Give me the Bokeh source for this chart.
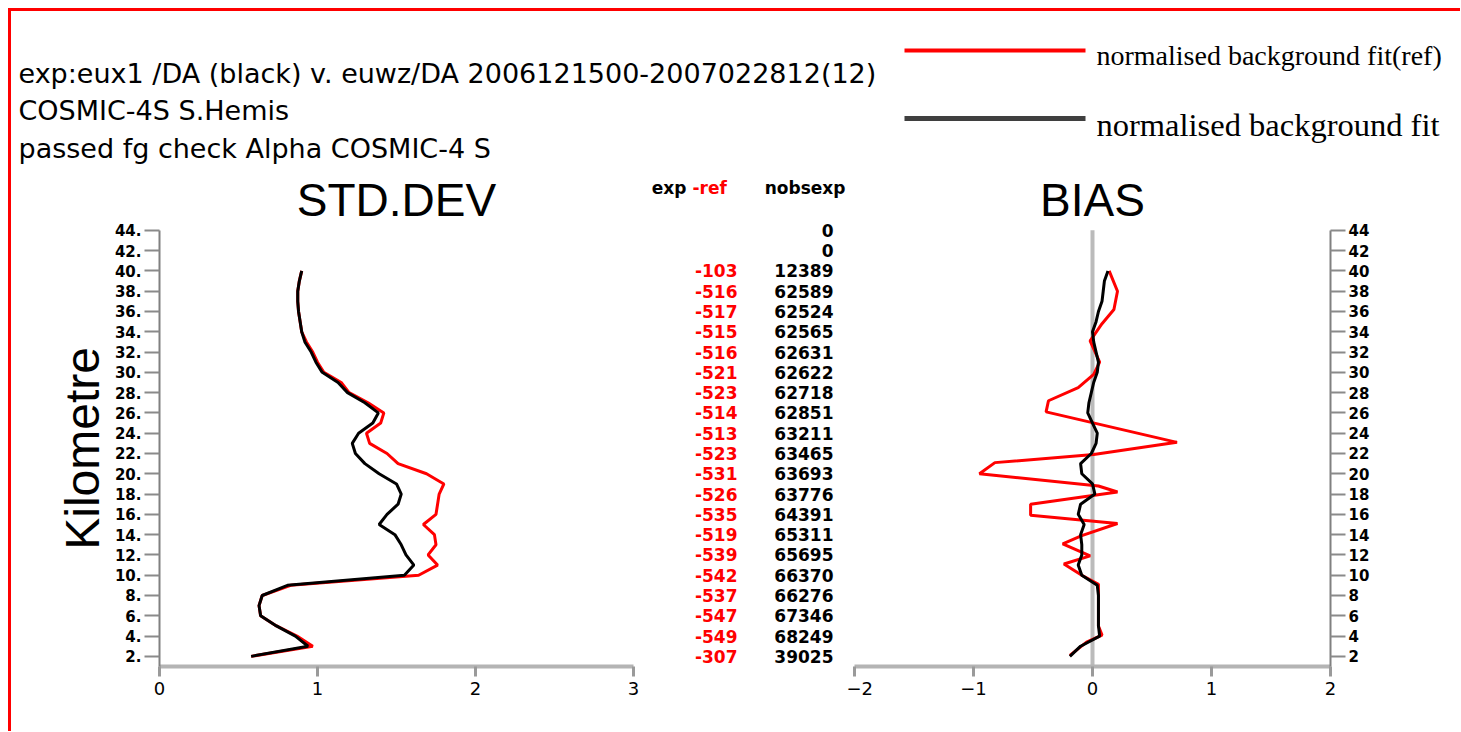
import math
from bokeh.plotting import figure
from bokeh.layouts import row, column
from bokeh.models import Range1d, FixedTicker, ColumnDataSource, Spacer
from bokeh.core.properties import value
from bokeh.embed import file_html
from bokeh.resources import INLINE

# ---------------- data ----------------
levels = list(range(2, 41))  # km
std_exp = [0.58, 0.94, 0.86, 0.74, 0.64, 0.63, 0.65, 0.81, 1.55, 1.61,
           1.56, 1.53, 1.49, 1.39, 1.44, 1.51, 1.53, 1.50, 1.39, 1.30,
           1.24, 1.22, 1.26, 1.35, 1.385, 1.30, 1.19, 1.13, 1.03, 0.99,
           0.96, 0.92, 0.90, 0.89, 0.88, 0.875, 0.875, 0.885, 0.90]
std_ref = [0.58, 0.97, 0.87, 0.74, 0.64, 0.63, 0.65, 0.83, 1.64, 1.76,
           1.70, 1.75, 1.74, 1.67, 1.75, 1.76, 1.77, 1.80, 1.69, 1.51,
           1.44, 1.33, 1.31, 1.40, 1.42, 1.32, 1.20, 1.15, 1.04, 1.00,
           0.97, 0.93, 0.90, 0.89, 0.88, 0.875, 0.875, 0.885, 0.90]
bias_exp = [-0.19, -0.10, 0.06, 0.05, 0.05, 0.05, 0.05, 0.04, -0.09, -0.12,
            -0.09, -0.09, -0.10, -0.07, -0.12, -0.10, 0.02, 0.00, -0.09, -0.10,
            -0.01, 0.03, 0.04, 0.00, -0.04, -0.03, -0.01, 0.01, 0.04, 0.05,
            0.03, 0.01, 0.00, 0.03, 0.05, 0.08, 0.09, 0.10, 0.13]
bias_ref_levels = [2.1, 3.4, 4.1, 5.0, 9.1, 10.0, 11.1, 11.9, 13.1, 13.9,
                   15.1, 15.9, 17.0, 18.2, 18.8, 20.0, 21.1, 21.9, 23.1, 26.1,
                   27.2, 28.5, 29.8, 31.0, 33.1, 34.8, 36.2, 38.0, 40.0]
bias_ref = [-0.19, -0.05, 0.08, 0.05, 0.05, -0.09, -0.24, -0.02, -0.25, -0.09,
            0.21, -0.52, -0.52, 0.21, 0.05, -0.95, -0.82, 0.01, 0.71, -0.39,
            -0.37, -0.12, 0.01, 0.06, -0.02, 0.08, 0.18, 0.21, 0.14]

table_levels = list(range(44, 0, -2))
nobs_exp = [0, 0, 12389, 62589, 62524, 62565, 62631, 62622, 62718, 62851, 63211,
            63465, 63693, 63776, 64391, 65311, 65695, 66370, 66276, 67346, 68249, 39025]
diff_ref = [None, None, -103, -516, -517, -515, -516, -521, -523, -514, -513,
            -523, -531, -526, -535, -519, -539, -542, -537, -547, -549, -307]

y_ticks = list(range(2, 45, 2))
std_ticks = [0, 1, 2, 3]
bias_ticks = [-2, -1, 0, 1, 2]

header_lines = ["exp:eux1 /DA (black)  v. euwz/DA 2006121500-2007022812(12)",
                "COSMIC-4S  S.Hemis",
                "passed fg check Alpha COSMIC-4 S"]
legend_labels = ["normalised background fit(ref)", "normalised background fit"]
col_heads = ["exp", "-ref", "nobsexp"]
y_label = "Kilometre"

# ---------------- layout constants ----------------
RED = "#ff0000"
Y_MIN, Y_MAX, Y_TOP = 1, 44, 49.9
FRAME_H = 496
BOT_B = 50
FIG_H = FRAME_H + BOT_B
PX_PER_KM = FRAME_H / (Y_TOP - Y_MIN)
HEAD_H = 159
HEAD_W = 1442
LBL_W = 100
SANS = "Liberation Sans"
NUM = "DejaVu Sans"


def above_axis(px):
    """y position lying px pixels above the top (44 km) of the axis"""
    return Y_MAX + px / PX_PER_KM


TITLE_Y = above_axis(30)
HEAD_Y = above_axis(42)


def base_fig(**kw):
    p = figure(output_backend="svg", toolbar_location=None, **kw)
    p.grid.visible = False
    p.outline_line_color = None
    p.background_fill_color = "white"
    p.border_fill_color = "white"
    p.title.visible = False
    return p


def style_x(ax, ticks):
    ax.ticker = FixedTicker(ticks=ticks)
    ax.axis_line_color = "#b4b4b4"
    ax.axis_line_width = 4
    ax.major_tick_out = 10
    ax.major_tick_in = 0
    ax.major_tick_line_color = "#9a9a9a"
    ax.major_tick_line_width = 3
    ax.minor_tick_line_color = None
    ax.major_label_text_font = NUM
    ax.major_label_text_font_size = "18px"
    ax.major_label_text_color = "black"
    ax.major_label_standoff = 5


def style_y(ax, dots):
    ax.ticker = FixedTicker(ticks=y_ticks)
    ax.bounds = (Y_MIN, Y_MAX)
    if dots:
        ax.major_label_overrides = {t: f"{t}." for t in y_ticks}
    ax.axis_line_color = "#808080"
    ax.axis_line_width = 2
    ax.major_tick_out = 15
    ax.major_tick_in = 0
    ax.major_tick_line_color = "#8a8a8a"
    ax.major_tick_line_width = 2
    ax.minor_tick_line_color = None
    ax.major_label_text_font = NUM
    ax.major_label_text_font_style = "bold"
    ax.major_label_text_font_size = "15px"
    ax.major_label_text_color = "black"
    ax.major_label_standoff = 3


title_style = dict(text_font=value(SANS), text_font_size="46px", text_baseline="middle",
                   text_align="center", text_color="black")

# ---------------- y-axis title strip ----------------
pk = base_fig(width=LBL_W, height=FIG_H,
              x_range=Range1d(0, LBL_W), y_range=Range1d(Y_MIN, Y_TOP),
              x_axis_location=None, y_axis_location=None,
              min_border_left=0, min_border_right=0,
              min_border_top=0, min_border_bottom=BOT_B)
pk.text(x=[71], y=[(Y_MIN + Y_MAX) / 2], text=[y_label], angle=math.pi / 2,
        text_font=value(SANS), text_font_size="48px", text_align="center",
        text_baseline="middle", text_color="black")

# ---------------- STD.DEV ----------------
p1 = base_fig(width=46 + 476 + 10, height=FIG_H,
              x_range=Range1d(0, 3), y_range=Range1d(Y_MIN, Y_TOP),
              min_border_left=46, min_border_right=10,
              min_border_top=0, min_border_bottom=BOT_B)
style_x(p1.xaxis[0], std_ticks)
style_y(p1.yaxis[0], True)
p1.line(std_ref, levels, line_color=RED, line_width=3)
p1.line(std_exp, levels, line_color="black", line_width=3)
p1.text(x=[(std_ticks[0] + std_ticks[-1]) / 2], y=[TITLE_Y], text=["STD.DEV"], **title_style)

# ---------------- middle table ----------------
MID_W = 203
p2 = base_fig(width=MID_W, height=FIG_H,
              x_range=Range1d(0, MID_W), y_range=Range1d(Y_MIN, Y_TOP),
              x_axis_location=None, y_axis_location=None,
              min_border_left=0, min_border_right=0,
              min_border_top=0, min_border_bottom=BOT_B)
num_style = dict(text_font=value(NUM), text_font_size="17px", text_font_style="bold",
                 text_baseline="middle")
src_nobs = ColumnDataSource(dict(y=table_levels, t=[str(v) for v in nobs_exp]))
p2.text(x=190, y="y", text="t", source=src_nobs, text_color="black", text_align="right",
        **num_style)
ref_rows = [(lv, d) for lv, d in zip(table_levels, diff_ref) if d is not None]
src_ref = ColumnDataSource(dict(y=[r[0] for r in ref_rows], t=[str(r[1]) for r in ref_rows]))
p2.text(x=94, y="y", text="t", source=src_ref, text_color=RED, text_align="right",
        **num_style)
p2.text(x=[43, 49, 202], y=[HEAD_Y] * 3, text=col_heads,
        text_color=["black", RED, "black"], text_align=["right", "left", "right"],
        **num_style)

# ---------------- BIAS ----------------
p3 = base_fig(width=8 + 476 + 60, height=FIG_H,
              x_range=Range1d(-2, 2), y_range=Range1d(Y_MIN, Y_TOP),
              y_axis_location="right",
              min_border_left=8, min_border_right=60,
              min_border_top=0, min_border_bottom=BOT_B)
style_x(p3.xaxis[0], bias_ticks)
style_y(p3.yaxis[0], False)
p3.segment(x0=[0], y0=[Y_MIN], x1=[0], y1=[Y_MAX], line_color="#bbbbbb", line_width=4)
p3.line(bias_ref, bias_ref_levels, line_color=RED, line_width=3)
p3.line(bias_exp, levels, line_color="black", line_width=3)
p3.text(x=[0], y=[TITLE_Y], text=["BIAS"], **title_style)

# ---------------- header (run description + legend) ----------------
ph = base_fig(width=HEAD_W, height=HEAD_H, x_range=Range1d(0, HEAD_W),
              y_range=Range1d(HEAD_H, 0), x_axis_location=None, y_axis_location=None,
              min_border=0)
ph.text(x=[7, 7, 7], y=[62, 99, 137], text=header_lines, text_font=value("DejaVu Sans"),
        text_font_size="27px", text_baseline="middle", text_align="left", text_color="black")
ph.segment(x0=[893, 893], y0=[39, 107], x1=[1074, 1074], y1=[39, 107],
           line_color=[RED, "#3f3f3f"], line_width=[4, 5])
ph.text(x=[1085], y=[44], text=[legend_labels[0]], text_font=value("Liberation Serif"),
        text_font_size="28px", text_baseline="middle", text_color="black")
ph.text(x=[1085], y=[113], text=[legend_labels[1]], text_font=value("Liberation Serif"),
        text_font_size="32.5px", text_baseline="middle", text_color="black")

# ---------------- red frame (top & left edges) ----------------
top_strip = Spacer(width=1452, height=3, styles={"background-color": RED})
left_strip = Spacer(width=3, height=720, styles={"background-color": RED})

layout = column(Spacer(width=10, height=8),
                row(Spacer(width=8, height=10),
                    column(top_strip,
                           row(left_strip, column(ph, row(pk, p1, p2, p3))))))

open("out.html", "w").write(file_html(layout, INLINE))
